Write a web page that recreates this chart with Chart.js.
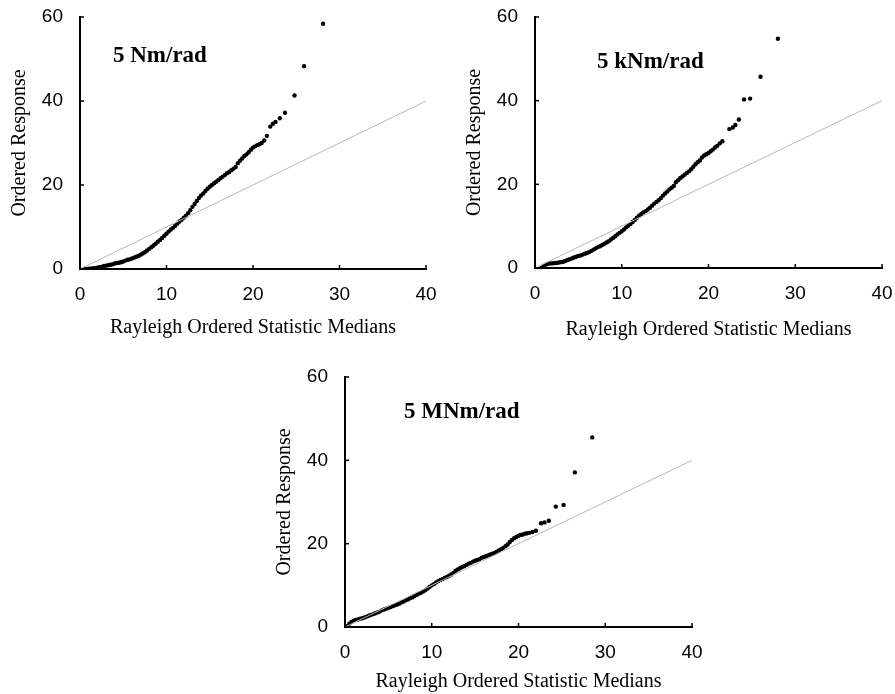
<!DOCTYPE html>
<html>
<head>
<meta charset="utf-8">
<script src="https://cdn.jsdelivr.net/npm/chart.js@4/dist/chart.umd.min.js"></script>
<style>
  body { margin: 0; background: #fff; }
  #wrap { position: relative; width: 895px; height: 694px; overflow: hidden; }
  .box { position: absolute; }
</style>
</head>
<body>
<div id="wrap">
  <div class="box" style="left:0px;top:0px;width:445px;height:340px"><canvas id="c1"></canvas></div>
  <div class="box" style="left:455px;top:0px;width:440px;height:342px"><canvas id="c2"></canvas></div>
  <div class="box" style="left:265px;top:360px;width:445px;height:334px"><canvas id="c3"></canvas></div>
</div>
<script>
// tick labels and axis ranges
var xTicks = [0, 10, 20, 30, 40];
var yTicks = [0, 20, 40, 60];
var refLine = [0, 40]; // 1:1 reference line end points

// 5 Nm/rad  [median, response]
var nmPoints = [
  [0.5,0],[0.75,0],[1,0.1],[1.25,0.1],[1.5,0.2],[1.75,0.2],[2,0.3],[2.25,0.4],[2.5,0.5],[2.75,0.7],
  [3,0.8],[3.25,0.9],[3.5,1.0],[3.75,1.1],[4,1.3],[4.25,1.4],[4.5,1.5],[4.75,1.6],[5,1.8],[5.25,2.0],
  [5.5,2.2],[5.75,2.3],[6,2.5],[6.25,2.7],[6.5,2.9],[6.75,3.1],[7,3.4],[7.25,3.7],[7.5,4.0],[7.75,4.4],
  [8,4.8],[8.25,5.2],[8.5,5.6],[8.75,6.0],[9,6.5],[9.25,6.9],[9.5,7.4],[9.75,7.9],[10,8.4],[10.25,8.9],
  [10.5,9.4],[10.75,9.8],[11,10.3],[11.25,10.8],[11.5,11.3],[11.75,11.7],[12,12.2],[12.25,12.7],[12.5,13.3],[12.75,14.0],
  [13,14.8],[13.25,15.5],[13.5,16.2],[13.75,16.9],[14,17.5],[14.25,18.0],[14.5,18.6],[14.75,19.1],[15,19.6],[15.25,20.0],
  [15.5,20.4],[15.75,20.8],[16,21.2],[16.25,21.6],[16.5,22.0],[16.75,22.4],[17,22.8],[17.25,23.1],[17.5,23.5],[17.75,23.9],
  [18,24.3],[18.25,25.2],[18.5,25.8],[18.75,26.3],[19,26.9],[19.25,27.3],[19.5,27.8],[19.75,28.4],[20,28.9],[20.25,29.2],
  [20.5,29.5],[20.75,29.7],[21,30.0],
  [21.3,30.6],[21.6,31.7],[22.0,33.9],[22.3,34.6],[22.6,35.0],[23.1,35.9],[23.7,37.2],[24.8,41.3],[25.9,48.3],[28.1,58.4]
];

// 5 kNm/rad
var knmPoints = [
  [0.75,0.1],[1,0.5],[1.25,0.8],[1.5,1.0],[1.75,1.1],[2,1.1],[2.25,1.2],[2.5,1.2],[2.75,1.3],[3,1.4],
  [3.25,1.5],[3.5,1.7],[3.75,1.9],[4,2.1],[4.25,2.3],[4.5,2.5],[4.75,2.7],[5,2.9],[5.25,3.0],[5.5,3.2],
  [5.75,3.4],[6,3.6],[6.25,3.8],[6.5,4.1],[6.75,4.4],[7,4.7],[7.25,5.0],[7.5,5.2],[7.75,5.5],[8,5.8],
  [8.25,6.1],[8.5,6.4],[8.75,6.8],[9,7.2],[9.25,7.6],[9.5,8.0],[9.75,8.4],[10,8.8],[10.25,9.2],[10.5,9.7],
  [10.75,10.1],[11,10.5],[11.25,11.0],[11.5,11.5],[11.75,12.0],[12,12.5],[12.25,12.9],[12.5,13.3],[12.75,13.6],[13,14.0],
  [13.25,14.4],[13.5,14.9],[13.75,15.4],[14,15.8],[14.25,16.2],[14.5,16.7],[14.75,17.3],[15,17.8],[15.25,18.3],[15.5,18.8],
  [15.75,19.2],[16,19.6],[16.25,20.5],[16.5,21.0],[16.75,21.5],[17,21.9],[17.25,22.3],[17.5,22.7],[17.75,23.1],[18,23.6],
  [18.25,24.2],[18.5,24.8],[18.75,25.3],[19,25.7],[19.25,26.4],[19.5,26.9],[19.75,27.2],[20,27.5],[20.25,27.9],[20.5,28.3],
  [20.75,28.8],[21,29.2],
  [21.3,29.8],[21.6,30.3],[22.4,33.2],[22.8,33.6],[23.1,34.2],[23.5,35.5],[24.1,40.3],[24.8,40.5],[26.0,45.7],[28.0,54.8]
];

// 5 MNm/rad
var mnmPoints = [
  [0.25,0.2],[0.5,0.8],[0.75,1.2],[1,1.5],[1.25,1.7],[1.5,1.8],[1.75,2.0],[2,2.1],[2.25,2.3],[2.5,2.5],
  [2.75,2.7],[3,2.9],[3.25,3.1],[3.5,3.3],[3.75,3.5],[4,3.7],[4.25,4.0],[4.5,4.2],[4.75,4.4],[5,4.6],
  [5.25,4.8],[5.5,5.0],[5.75,5.2],[6,5.4],[6.25,5.6],[6.5,5.9],[6.75,6.1],[7,6.4],[7.25,6.6],[7.5,6.9],
  [7.75,7.1],[8,7.4],[8.25,7.7],[8.5,8.0],[8.75,8.2],[9,8.5],[9.25,8.8],[9.5,9.2],[9.75,9.6],[10,10.0],
  [10.25,10.3],[10.5,10.7],[10.75,11.0],[11,11.3],[11.25,11.5],[11.5,11.8],[11.75,12.0],[12,12.3],[12.25,12.6],[12.5,13.0],
  [12.75,13.5],[13,13.8],[13.25,14.1],[13.5,14.4],[13.75,14.6],[14,14.9],[14.25,15.2],[14.5,15.4],[14.75,15.7],[15,15.9],
  [15.25,16.1],[15.5,16.3],[15.75,16.6],[16,16.8],[16.25,17.0],[16.5,17.2],[16.75,17.4],[17,17.6],[17.25,17.8],[17.5,18.1],
  [17.75,18.4],[18,18.7],[18.25,19.0],[18.5,19.4],[18.75,19.8],[19,20.4],[19.25,20.9],[19.5,21.3],[19.75,21.6],[20,21.9],
  [20.25,22.1],[20.5,22.2],[20.75,22.4],[21,22.5],[21.25,22.6],
  [21.6,22.8],[22.0,23.1],[22.6,24.9],[23.0,25.1],[23.5,25.5],[24.3,28.9],[25.2,29.3],[26.5,37.1],[28.5,45.5]
];

var labels = ['5 Nm/rad', '5 kNm/rad', '5 MNm/rad'];

// small inside tick marks like the original figure
var innerTicks = {
    id: 'innerTicks',
    afterDraw: function(chart) {
        var ctx = chart.ctx, a = chart.chartArea;
        ctx.save();
        ctx.strokeStyle = '#000';
        ctx.lineWidth = 1.5;
        xTicks.forEach(function(v) {
            var px = chart.scales.x.getPixelForValue(v);
            ctx.beginPath(); ctx.moveTo(px, a.bottom); ctx.lineTo(px, a.bottom - 4); ctx.stroke();
        });
        yTicks.forEach(function(v) {
            var py = chart.scales.y.getPixelForValue(v);
            ctx.beginPath(); ctx.moveTo(a.left, py); ctx.lineTo(a.left + 4, py); ctx.stroke();
        });
        ctx.restore();
    }
};

function makeChart(id, points, text, dx, dy, xHeight, padRight) {
    var ctx = document.getElementById(id);
    return new Chart(ctx, {
        type: 'scatter',
        data: {
            datasets: [{
                type: 'line',
                data: refLine.map(function(v) { return {x: v, y: v}; }),
                borderColor: '#b8b8b8',
                borderWidth: 1,
                pointRadius: 0,
                order: 0
            }, {
                data: points.map(function(p) { return {x: p[0], y: p[1]}; }),
                backgroundColor: '#000',
                borderWidth: 0,
                pointRadius: 2.2,
                order: 1
            }]
        },
        options: {
            responsive: true,
            maintainAspectRatio: false,
            animation: false,
            events: [],
            layout: { padding: { top: 17, right: padRight, left: 0, bottom: 0 } },
            plugins: { legend: { display: false }, tooltip: { enabled: false } },
            scales: {
                x: {
                    type: 'linear', min: 0, max: 40,
                    afterBuildTicks: function(s) { s.ticks = xTicks.map(function(v) { return {value: v}; }); },
                    // invisible tick marks only push the labels away from the axis
                    grid: { display: true, drawOnChartArea: false, drawTicks: true, tickLength: 12, tickColor: 'rgba(0,0,0,0)' },
                    border: { display: true, color: '#000', width: 2 },
                    ticks: { color: '#000', padding: 2, font: { family: 'Liberation Sans', size: 19 } },
                    title: { display: true, text: 'Rayleigh Ordered Statistic Medians', color: '#000',
                             padding: { top: 6, bottom: 0 }, font: { family: 'Liberation Serif', size: 20 } },
                    afterFit: function(s) { s.height = xHeight; }
                },
                y: {
                    type: 'linear', min: 0, max: 60,
                    afterBuildTicks: function(s) { s.ticks = yTicks.map(function(v) { return {value: v}; }); },
                    grid: { display: true, drawOnChartArea: false, drawTicks: true, tickLength: 15, tickColor: 'rgba(0,0,0,0)' },
                    border: { display: true, color: '#000', width: 2 },
                    ticks: { color: '#000', padding: 2, font: { family: 'Liberation Sans', size: 19 } },
                    title: { display: true, text: 'Ordered Response', color: '#000',
                             padding: { top: 8, bottom: 0 }, font: { family: 'Liberation Serif', size: 20 } },
                    afterFit: function(s) { s.width = 80; }
                }
            }
        },
        plugins: [innerTicks, {
            id: 'panelLabel',
            afterDraw: function(chart) {
                var c = chart.ctx, a = chart.chartArea;
                c.save();
                c.fillStyle = '#000';
                c.font = 'bold 23px "Liberation Serif"';
                c.textBaseline = 'middle';
                c.fillText(text, a.left + dx, a.top + dy);
                c.restore();
            }
        }]
    });
}

makeChart('c1', nmPoints, labels[0], 33, 39, 71, 19);
makeChart('c2', knmPoints, labels[1], 62, 45, 74, 13);
makeChart('c3', mnmPoints, labels[2], 59, 35, 67, 18);
</script>
</body>
</html>
